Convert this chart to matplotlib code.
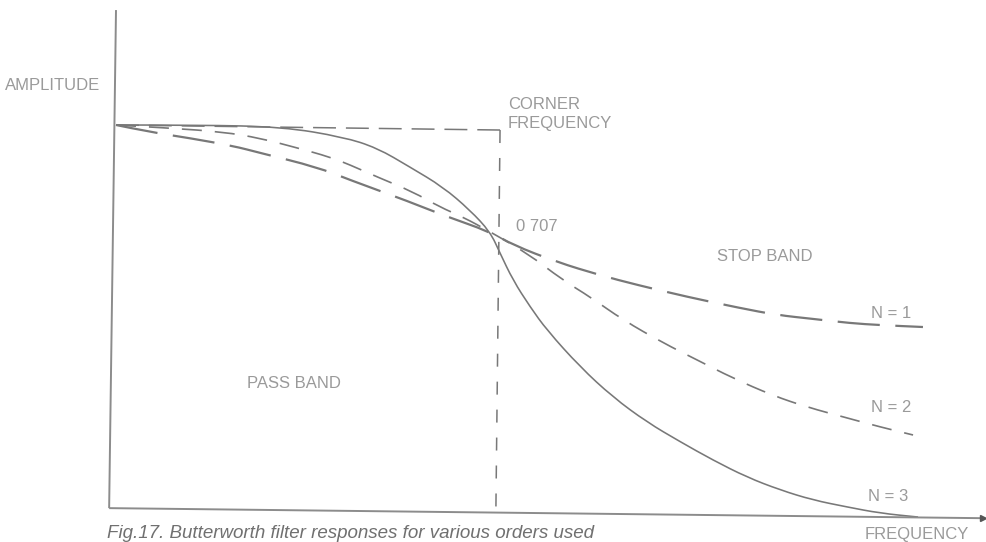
import matplotlib
matplotlib.use("Agg")
import matplotlib.pyplot as plt
from matplotlib.path import Path
from matplotlib.patches import PathPatch

# ---- data (normalised frequency, amplitude) ----
n1_freq = [0.000, 0.089, 0.194, 0.307, 0.378, 0.528, 0.614, 0.772, 0.858, 0.982,
           1.042, 1.157, 1.270, 1.367, 1.499, 1.638, 1.735, 1.829, 1.927, 2.005, 2.118]
n1_amp = [1.000, 0.982, 0.966, 0.946, 0.928, 0.891, 0.858, 0.801, 0.767, 0.724,
          0.690, 0.646, 0.612, 0.587, 0.556, 0.527, 0.509, 0.499, 0.488, 0.483, 0.478]

n2_freq = [0.000, 0.142, 0.281, 0.378, 0.475, 0.562, 0.614, 0.685, 0.780, 0.850, 0.911,
           0.982, 1.079, 1.173, 1.244, 1.331, 1.436, 1.525, 1.619, 1.724, 1.814, 1.919,
           2.005, 2.092]
n2_amp = [1.000, 0.992, 0.982, 0.966, 0.941, 0.917, 0.897, 0.866, 0.827, 0.788, 0.762,
          0.724, 0.669, 0.599, 0.556, 0.496, 0.437, 0.393, 0.346, 0.301, 0.271, 0.243,
          0.220, 0.199]

n3_freq = [0.000, 0.220, 0.438, 0.596, 0.685, 0.772, 0.858, 0.929, 0.982, 1.008, 1.042,
           1.087, 1.131, 1.218, 1.304, 1.394, 1.480, 1.567, 1.656, 1.743, 1.829, 1.919,
           2.005, 2.105]
n3_amp = [1.000, 1.000, 0.995, 0.969, 0.941, 0.891, 0.840, 0.780, 0.724, 0.669, 0.599,
          0.530, 0.470, 0.375, 0.297, 0.232, 0.182, 0.134, 0.090, 0.057, 0.031, 0.013,
          -0.003, -0.013]

corner_h_freq = [0.000, 1.008]
corner_h_amp = [1.000, 0.987]
corner_v_freq = [1.008, 0.997]
corner_v_amp = [0.987, -0.003]

yaxis_freq = [0.000, -0.018]
yaxis_amp = [1.297, 0.010]
xaxis_freq = [-0.018, 2.276]
xaxis_amp = [0.010, -0.016]

curve_labels = ["N = 1", "N = 2", "N = 3"]

LINE = "#787878"
AXIS = "#8c8c8c"
TEXT = "#9a9a9a"

fig = plt.figure(figsize=(9.86, 5.42), dpi=100)
ax = fig.add_axes([0, 0, 1, 1])
ax.set_xlim(-116 / 381, 870 / 381)
ax.set_ylim(-30 / 387, 512 / 387)
ax.axis("off")


def smooth_curve(xs, ys, **kw):
    """Draw a smooth quadratic-Bezier path using the read points as controls."""
    verts = [(xs[0], ys[0])]
    codes = [Path.MOVETO]
    for i in range(1, len(xs) - 1):
        mx = (xs[i] + xs[i + 1]) / 2
        my = (ys[i] + ys[i + 1]) / 2
        verts += [(xs[i], ys[i]), (mx, my)]
        codes += [Path.CURVE3, Path.CURVE3]
    verts.append((xs[-1], ys[-1]))
    codes.append(Path.LINETO)
    patch = PathPatch(Path(verts, codes), fill=False, **kw)
    ax.add_patch(patch)
    return patch


# axes
ax.plot(yaxis_freq, yaxis_amp, color=AXIS, lw=1.4, solid_capstyle="butt")
ax.plot(xaxis_freq, xaxis_amp, color=AXIS, lw=1.4, solid_capstyle="butt")
ax.plot([xaxis_freq[-1]], [xaxis_amp[-1]], marker=">", color="#555555", ms=5)

# corner frequency guide
ax.plot(corner_h_freq, corner_h_amp, color=LINE, lw=1.1, dashes=(15, 6.5))
ax.plot(corner_v_freq, corner_v_amp, color=LINE, lw=1.1, dashes=(8.5, 9.8))

# curves
smooth_curve(n1_freq, n1_amp, edgecolor=LINE, lw=1.6, linestyle=(0, (19, 7)))
smooth_curve(n2_freq, n2_amp, edgecolor=LINE, lw=1.2, linestyle=(0, (12, 7.8)))
smooth_curve(n3_freq, n3_amp, edgecolor=LINE, lw=1.15)

fp = dict(family=["Liberation Sans", "DejaVu Sans"], fontsize=12, color=TEXT,
          ha="left", va="center")
ax.text(-0.291, 1.101, "AMPLITUDE", **fp)
ax.text(1.029, 1.052, "CORNER", **fp)
ax.text(1.029, 1.003, "FREQUENCY", **fp)
ax.text(1.050, 0.739, "0 707", **fp)
ax.text(1.577, 0.659, "STOP BAND", **fp)
ax.text(0.344, 0.333, "PASS BAND", **fp)
ax.text(1.982, 0.514, curve_labels[0], **fp)
ax.text(1.982, 0.269, curve_labels[1], **fp)
ax.text(1.974, 0.039, curve_labels[2], **fp)
ax.text(1.966, -0.057, "FREQUENCY", **fp)

ax.text(-0.024, -0.068, "Fig.17. Butterworth filter responses for various orders used",
        family=["Liberation Sans", "DejaVu Sans"], style="italic", fontsize=13.5,
        color="#707070", ha="left", va="baseline")

fig.savefig("out.png", dpi=100)
